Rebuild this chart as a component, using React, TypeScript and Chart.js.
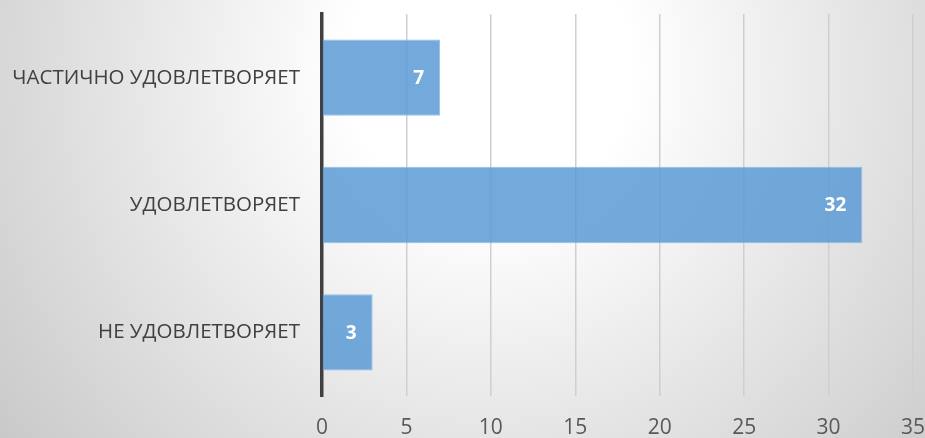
import React, { useEffect, useRef } from "react";
import { Chart, registerables } from "chart.js";

Chart.register(...registerables);

const categories = ["ЧАСТИЧНО УДОВЛЕТВОРЯЕТ", "УДОВЛЕТВОРЯЕТ", "НЕ УДОВЛЕТВОРЯЕТ"];
const values = [7, 32, 3];
const xMin = 0;
const xMax = 35;
const xStep = 5;

const FONT = "'Open Sans', 'DejaVu Sans', sans-serif";

const bgPlugin = {
  id: "bgGradient",
  beforeDraw(chart: any) {
    const { ctx, width, height } = chart;
    ctx.save();
    const g = ctx.createRadialGradient(490, 70, 0, 490, 70, 640);
    g.addColorStop(0, "#ffffff");
    g.addColorStop(0.22, "#ffffff");
    g.addColorStop(1, "#c6c6c6");
    ctx.fillStyle = g;
    ctx.fillRect(0, 0, width, height);
    ctx.restore();
  },
};

const labelPlugin = {
  id: "barLabels",
  afterDatasetsDraw(chart: any) {
    const { ctx } = chart;
    const meta = chart.getDatasetMeta(0);
    ctx.save();
    ctx.fillStyle = "#ffffff";
    ctx.font = `bold 19px ${FONT}`;
    ctx.textAlign = "right";
    ctx.textBaseline = "middle";
    meta.data.forEach((bar: any, i: number) => {
      ctx.fillText(String(values[i]), bar.x - 16, bar.y + 1);
    });
    ctx.restore();
  },
};

function zeroPad(scale: any) {
  scale.paddingTop = 0;
  scale.paddingBottom = 0;
  scale.paddingLeft = 0;
  scale.paddingRight = 0;
}

export default function App() {
  const ref = useRef<HTMLCanvasElement>(null);
  useEffect(() => {
    document.body.style.margin = "0";
    const chart = new Chart(ref.current!, {
      type: "bar",
      data: {
        labels: categories,
        datasets: [
          {
            data: values,
            backgroundColor: "rgba(91,155,213,0.85)",
            borderColor: "rgba(140,186,228,0.9)",
            borderWidth: 1,
            barPercentage: 0.6,
            categoryPercentage: 1,
          },
        ],
      },
      options: {
        indexAxis: "y",
        animation: false,
        responsive: false,
        maintainAspectRatio: false,
        layout: { padding: { top: 14, right: 12, left: 0, bottom: 0 } },
        plugins: { legend: { display: false }, tooltip: { enabled: false } },
        scales: {
          x: {
            min: xMin,
            max: xMax,
            ticks: {
              stepSize: xStep,
              color: "#595959",
              font: { family: FONT, size: 21 },
              padding: 19,
            },
            grid: { color: "#cfcfcf", lineWidth: 1.5, drawTicks: false },
            border: { display: false },
            afterFit(scale: any) {
              scale.height = 42;
              zeroPad(scale);
            },
          },
          y: {
            ticks: {
              color: "#404040",
              font: { family: FONT, size: 20.5 },
              padding: 22,
            },
            grid: { display: false, drawTicks: false },
            border: { display: true, color: "#404040", width: 3.5 },
            afterFit(scale: any) {
              scale.width = 322;
              zeroPad(scale);
            },
          },
        },
      },
      plugins: [bgPlugin, labelPlugin],
    });
    return () => chart.destroy();
  }, []);
  return <canvas ref={ref} width={925} height={438} style={{ display: "block" }} />;
}
